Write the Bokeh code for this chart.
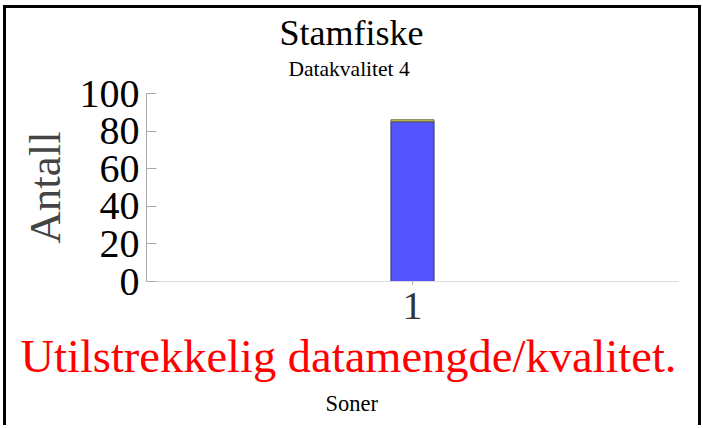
from bokeh.plotting import figure
from bokeh.models import FixedTicker, Range1d, Title
from bokeh.embed import file_html
from bokeh.resources import INLINE

categories = [1]
blue_values = [85]
yellow_values = [1]
y_ticks = [0, 20, 40, 60, 80, 100]

SERIF = "Liberation Serif"

p = figure(width=692, height=420, output_backend="svg", toolbar_location=None,
           x_range=Range1d(0.5, 1.5), y_range=Range1d(0, 100),
           min_border_left=140, min_border_right=20, min_border_top=85,
           min_border_bottom=147)
p.margin = (8, 0, 0, 6)
p.styles = {"box-shadow": "-3px -3px 0 0 black, 3px -3px 0 0 black"}

tops2 = [b + y for b, y in zip(blue_values, yellow_values)]
p.vbar(x=categories, width=0.081, bottom=0, top=blue_values,
       fill_color="#5555FF", line_color="#333366", line_width=1)
p.vbar(x=categories, width=0.081, bottom=blue_values, top=tops2,
       fill_color="#D8D070", line_color="#666633", line_width=1)

p.grid.visible = False
p.outline_line_color = None

p.yaxis.ticker = FixedTicker(ticks=y_ticks)
p.yaxis.major_label_text_font = SERIF
p.yaxis.major_label_text_font_size = "40px"
p.yaxis.major_label_text_color = "black"
p.yaxis.axis_line_color = "#AAAAAA"
p.yaxis.major_tick_line_color = "#AAAAAA"
p.yaxis.major_tick_in = 10
p.yaxis.major_tick_out = 0
p.yaxis.minor_tick_line_color = None
p.yaxis.major_label_standoff = 7
p.yaxis.axis_label = "Antall"
p.yaxis.axis_label_text_font = SERIF
p.yaxis.axis_label_text_font_size = "45px"
p.yaxis.axis_label_text_font_style = "normal"
p.yaxis.axis_label_text_color = "#444444"
p.yaxis.axis_label_standoff = 7

p.xaxis.ticker = FixedTicker(ticks=categories)
p.xaxis.major_label_text_font = SERIF
p.xaxis.major_label_text_font_size = "40px"
p.xaxis.major_label_text_color = "#333333"
p.xaxis.axis_line_color = "#DDDDDD"
p.xaxis.major_tick_line_color = "#AAAAAA"
p.xaxis.major_tick_in = 0
p.xaxis.major_tick_out = 3
p.xaxis.minor_tick_line_color = None
p.xaxis.major_label_standoff = 8

p.add_layout(Title(text=" ", align="left", offset=0,
                   text_font=SERIF, text_font_size="9px", standoff=0), "above")
p.add_layout(Title(text="Datakvalitet 4", align="left", offset=142,
                   text_font=SERIF, text_font_size="21.5px", text_font_style="normal",
                   text_color="black", standoff=2), "above")
p.add_layout(Title(text="Stamfiske", align="left", offset=133,
                   text_font=SERIF, text_font_size="36px", text_font_style="normal",
                   text_color="black", standoff=2), "above")
p.add_layout(Title(text="Utilstrekkelig datamengde/kvalitet.", align="left", offset=-126,
                   text_font=SERIF, text_font_size="46.5px", text_font_style="normal",
                   text_color="#FF0000", standoff=14), "below")
p.add_layout(Title(text="Soner", align="left", offset=179,
                   text_font=SERIF, text_font_size="22.5px", text_font_style="normal",
                   text_color="black", standoff=0), "below")

open("out.html", "w").write(file_html(p, INLINE))
